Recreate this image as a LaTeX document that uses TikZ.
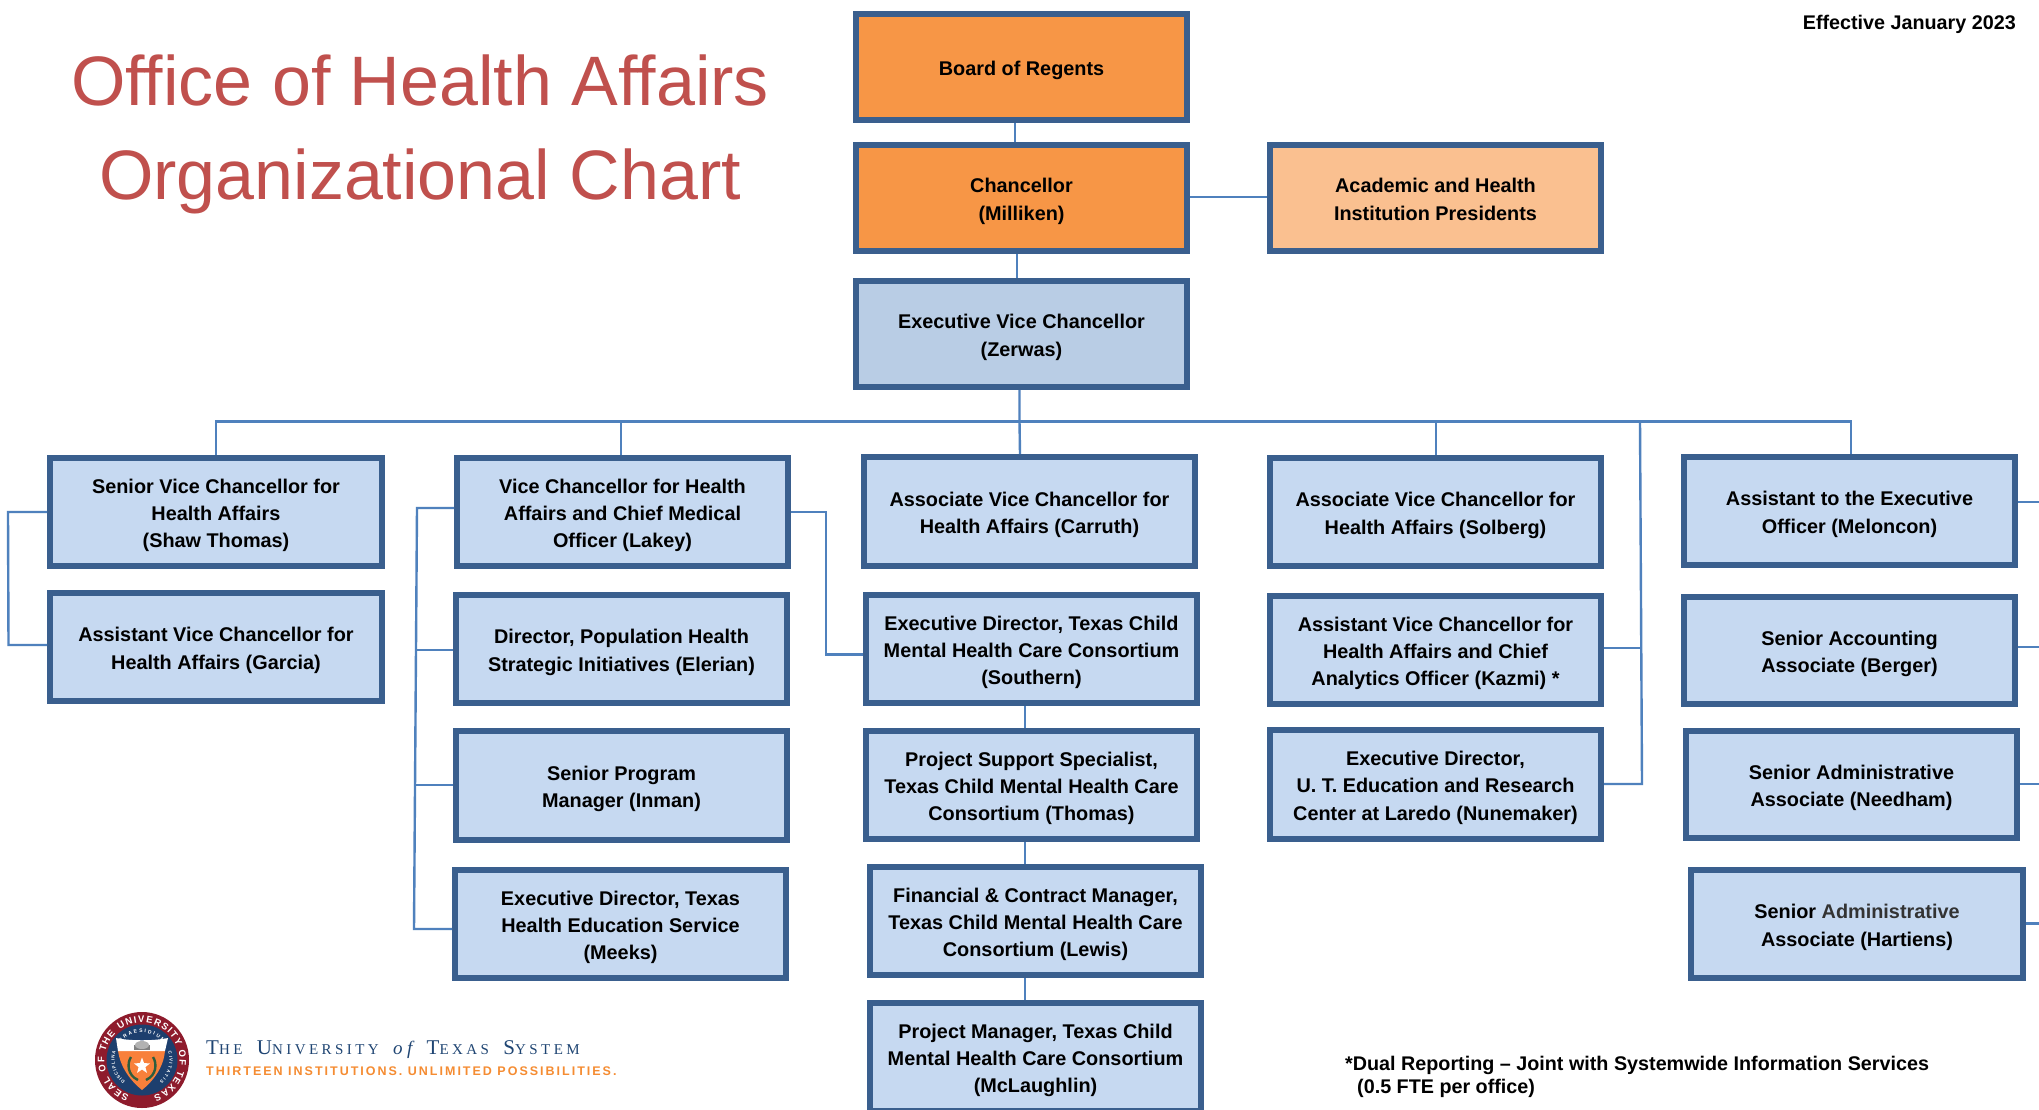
\documentclass[tikz,border=0pt]{standalone}
\usepackage{fontspec}
\setmainfont{Liberation Sans}
\newfontfamily\logoserif[LetterSpace=23]{Liberation Serif}
\newfontfamily\logosans[LetterSpace=16]{Liberation Sans}
\usetikzlibrary{decorations.text,shapes.geometric}
\definecolor{bordercol}{HTML}{3A5F8E}
\definecolor{conncol}{HTML}{4F81BD}
\definecolor{blueA}{HTML}{C6D9F1}
\definecolor{blueB}{HTML}{B9CDE5}
\definecolor{orangeA}{HTML}{F79646}
\definecolor{orangeB}{HTML}{FAC090}
\definecolor{titlecol}{HTML}{C0504D}
\definecolor{sealred}{HTML}{8E1B2C}
\definecolor{sealnavy}{HTML}{1D3F6E}
\definecolor{sealgreen}{HTML}{2C5E3F}
\definecolor{logoblue}{HTML}{1F4573}
\definecolor{logoorange}{HTML}{F58C32}
\tikzset{
  orgbox/.style={draw=bordercol,line width=6pt,inner sep=0pt,align=center,
    font=\fontsize{19.85}{27.2}\selectfont\bfseries,text=black},
  conn/.style={draw=conncol,line width=2.4pt,line join=miter},
  titletext/.style={font=\fontsize{70}{94}\selectfont,text=titlecol,inner sep=0pt,anchor=base},
  plainbold/.style={font=\fontsize{19.75}{24}\selectfont\bfseries,inner sep=0pt,text=black},
}
\newcommand{\orgnode}[7][blueA]{%
  \node[orgbox,fill=#1,minimum width={#4-#2-6},minimum height={#5-#3-6}]
    (#7) at ({(#2+#4)/2},{(#3+#5)/2}) {\rule{0pt}{21pt}#6\rule[-4pt]{0pt}{4pt}};}
\begin{document}
\begin{tikzpicture}[x=1pt,y=-1pt]
\path[use as bounding box,clip] (0,0) rectangle (2039,1109);
\fill[white] (0,0) rectangle (2039,1109);
% boxes:  x1 y1 x2 y2
\orgnode[orangeA]{853}{11}{1190}{123}{Board of Regents}{board}
\orgnode[orangeA]{853}{142}{1190}{254}{Chancellor\\(Milliken)}{chan}
\orgnode[orangeB]{1267}{142}{1604}{254}{Academic and Health\\Institution Presidents}{acad}
\orgnode[blueB]{853}{278}{1190}{390}{Executive Vice Chancellor\\(Zerwas)}{evc}
\orgnode{47}{455}{385}{569}{Senior Vice Chancellor for\\Health Affairs\\(Shaw Thomas)}{shaw}
\orgnode{47}{590}{385}{704}{Assistant Vice Chancellor for\\Health Affairs (Garcia)}{garcia}
\orgnode{454}{455}{791}{569}{Vice Chancellor for Health\\Affairs and Chief Medical\\Officer (Lakey)}{lakey}
\orgnode{453}{592}{790}{706}{Director, Population Health\\Strategic Initiatives (Elerian)}{elerian}
\orgnode{453}{728}{790}{843}{Senior Program\\Manager (Inman)}{inman}
\orgnode{452}{867}{789}{981}{Executive Director, Texas\\Health Education Service\\(Meeks)}{meeks}
\orgnode{861}{454}{1198}{569}{Associate Vice Chancellor for\\Health Affairs (Carruth)}{carruth}
\orgnode{863}{592}{1200}{706}{Executive Director, Texas Child\\Mental Health Care Consortium\\(Southern)}{southern}
\orgnode{863}{728}{1200}{842}{Project Support Specialist,\\Texas Child Mental Health Care\\Consortium (Thomas)}{thomas}
\orgnode{867}{864}{1204}{978}{Financial \& Contract Manager,\\Texas Child Mental Health Care\\Consortium (Lewis)}{lewis}
\orgnode{867}{1000}{1204}{1114}{Project Manager, Texas Child\\Mental Health Care Consortium\\(McLaughlin)}{mclaughlin}
\orgnode{1267}{455}{1604}{569}{Associate Vice Chancellor for\\Health Affairs (Solberg)}{solberg}
\orgnode{1267}{593}{1604}{707}{Assistant Vice Chancellor for\\Health Affairs and Chief\\Analytics Officer (Kazmi) *}{kazmi}
\orgnode{1267}{727}{1604}{842}{Executive Director,\\U. T. Education and Research\\Center at Laredo (Nunemaker)}{nunemaker}
\orgnode{1681}{454}{2018}{568}{Assistant to the Executive\\Officer (Meloncon)}{meloncon}
\orgnode{1681}{594}{2018}{707}{Senior Accounting\\Associate (Berger)}{berger}
\orgnode{1683}{728}{2020}{841}{Senior Administrative\\Associate (Needham)}{needham}
\orgnode{1688}{867}{2026}{981}{Senior {\color{black!80}Administrative}\\Associate (Hartiens)}{hartiens}
% connectors
\coordinate (bus) at (0,421.5);
\draw[conn] (1015,0 |- board.south) -- (1015,0 |- chan.north);
\draw[conn] (1017,0 |- chan.south) -- (1017,0 |- evc.north);
\draw[conn] (chan.east |- 0,197) -- (acad.west |- 0,197);
\draw[conn] (1019.5,0 |- evc.south) -- (1019.5,0 |- bus) -- (1020,0 |- carruth.north);
\draw[conn] (216,0 |- shaw.north) -- (216,0 |- bus) -- (1851,0 |- bus) -- (1851,0 |- meloncon.north);
\draw[conn] (621,0 |- bus) -- (621,0 |- lakey.north);
\draw[conn] (1436,0 |- bus) -- (1436,0 |- solberg.north);
\draw[conn] (shaw.west) -- (8,0 |- shaw.west) -- (8.5,645) -- (garcia.west |- 0,645);
\draw[conn] (lakey.west |- 0,508) -- (417,508) -- (414,929) -- (meeks.west |- 0,929);
\draw[conn] (416,650) -- (elerian.west |- 0,650);
\draw[conn] (415,785) -- (inman.west |- 0,785);
\draw[conn] (lakey.east |- 0,512) -- (826,512) -- (826,654.5) -- (southern.west |- 0,654.5);
\draw[conn] (1025,0 |- southern.south) -- (1025,0 |- thomas.north);
\draw[conn] (1025,0 |- thomas.south) -- (1025,0 |- lewis.north);
\draw[conn] (1025,0 |- lewis.south) -- (1025,0 |- mclaughlin.north);
\draw[conn] (1640,423) -- (1642,784) -- (nunemaker.east |- 0,784);
\draw[conn] (kazmi.east |- 0,648) -- (1641,648);
\draw[conn] (meloncon.east |- 0,502) -- (2039,502);
\draw[conn] (berger.east |- 0,647) -- (2039,647);
\draw[conn] (needham.east |- 0,784) -- (2039,784);
\draw[conn] (hartiens.east |- 0,923.5) -- (2039,923.5);
% texts
\node[titletext] (titleA) at (420,105) {Office of Health Affairs};
\node[titletext] (titleB) at (420,199) {Organizational Chart};
\node[plainbold,anchor=east] (effective) at (2016,24) {Effective January 2023};
\node[plainbold,anchor=west] (noteA) at (1345,1065) {*Dual Reporting – Joint with Systemwide Information Services};
\node[plainbold,anchor=west] (noteB) at (1357,1088.5) {(0.5 FTE per office)};
% logo text
\node[anchor=base west,inner sep=0pt,text=logoblue] (logoA) at (206,1054)
  {\logoserif\fontsize{21}{21}\selectfont T\fontsize{15}{15}\selectfont HE\ \ \fontsize{21}{21}\selectfont U\fontsize{15}{15}\selectfont NIVERSITY\ \ {\fontsize{19}{19}\selectfont\itshape of}\ \ \fontsize{21}{21}\selectfont T\fontsize{15}{15}\selectfont EXAS\ \ \fontsize{21}{21}\selectfont S\fontsize{15}{15}\selectfont YSTEM};
\node[anchor=base west,inner sep=0pt,text=logoorange] (logoB) at (206,1075)
  {\logosans\fontsize{12.5}{12.5}\selectfont\bfseries THIRTEEN INSTITUTIONS. UNLIMITED POSSIBILITIES.};
% seal
\begin{scope}[shift={(142,1060)},x=1pt,y=1pt]
  \fill[sealred] (0,0) ellipse (47 and 48);
  \fill[sealnavy] (0,0) circle (35.5);
  \path[decorate,decoration={text along path,text align=fit to path,
     text={|\fontsize{9.5}{9.5}\selectfont\bfseries\color{white}|SEAL OF THE UNIVERSITY OF TEXAS}}]
     (250:37.5) arc (250:-72:37.5);
  \path[decorate,decoration={text along path,text align=fit to path,
     text={|\fontsize{5}{5}\selectfont\bfseries\color{white}|PRAESIDIUM}}]
     (140:27.5) arc (140:40:27.5);
  \path[decorate,decoration={text along path,text align=fit to path,
     text={|\fontsize{4.5}{4.5}\selectfont\bfseries\color{white}|DISCIPLINA}}]
     (232:27.5) arc (232:162:27.5);
  \path[decorate,decoration={text along path,text align=fit to path,
     text={|\fontsize{4.5}{4.5}\selectfont\bfseries\color{white}|CIVITATIS}}]
     (18:27.5) arc (18:-50:27.5);
  % shield
  \fill[orangeA!85!red] (-24,10) -- (23,10) .. controls (22,-8) and (10,-22) .. (0,-30)
     .. controls (-10,-22) and (-22,-8) .. (-24,10) -- cycle;
  \fill[white] (-26,22) .. controls (-12,19) and (12,19) .. (26,22) -- (23,9) -- (-24,9) -- cycle;
  \fill[black!50] (-8,10) rectangle (8,15);
  \fill[black!30] (0,15) ellipse (7 and 4);
  \draw[sealgreen,line width=2.4pt] (-4,-20) .. controls (-15,-15) and (-15,-3) .. (-11,3);
  \draw[sealgreen,line width=2.4pt] (4,-20) .. controls (15,-15) and (15,-3) .. (11,3);
  \node[star,star points=5,star point ratio=2.4,fill=white,inner sep=0pt,minimum size=17pt] (sealstar) at (0,-6) {};
\end{scope}
\end{tikzpicture}
\end{document}
